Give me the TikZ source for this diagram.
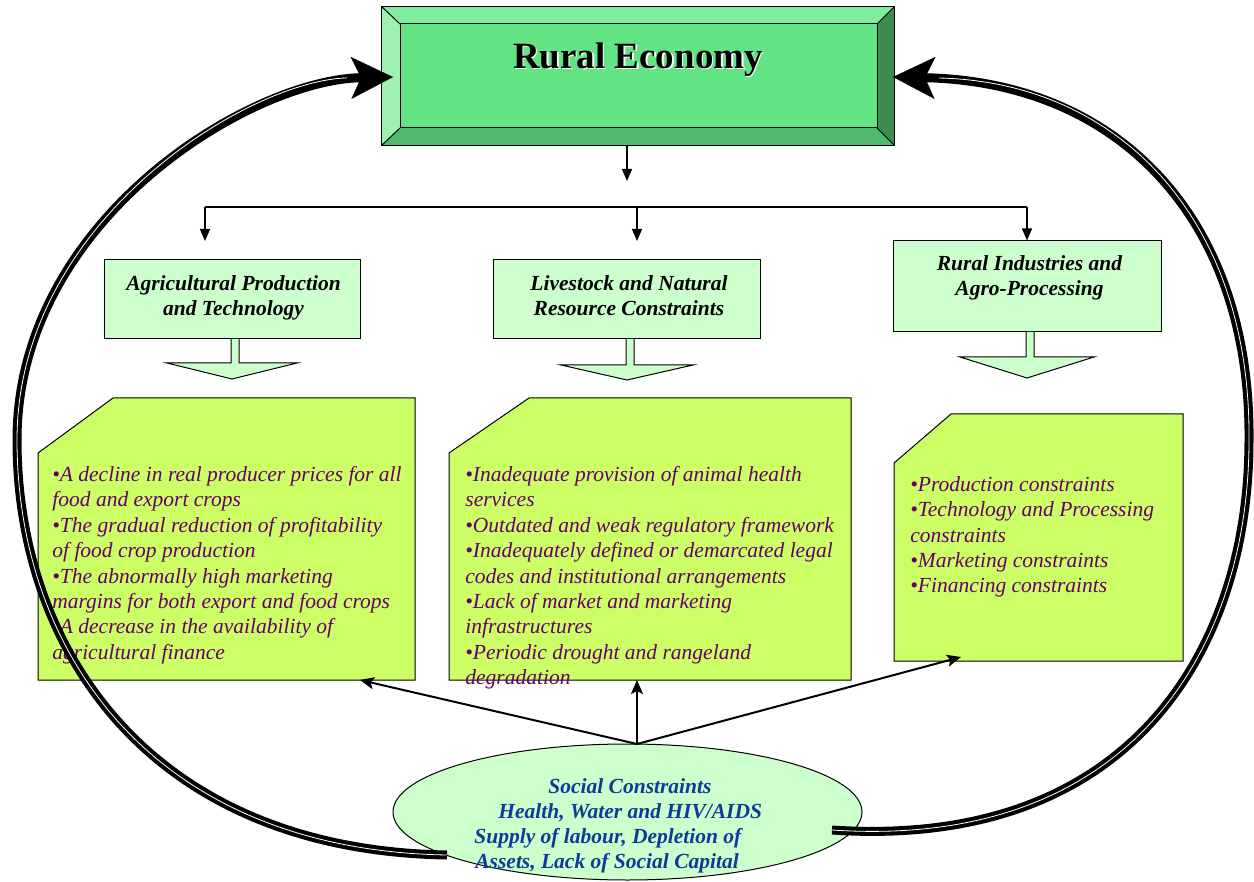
\documentclass[tikz,border=0pt]{standalone}
\usepackage{fontspec}
\setmainfont{Liberation Serif}
\usetikzlibrary{arrows.meta,shapes.geometric}
\definecolor{reMid}{HTML}{62E384}
\definecolor{reTop}{HTML}{80EB9A}
\definecolor{reLeft}{HTML}{A0F0B2}
\definecolor{reBot}{HTML}{50B86A}
\definecolor{reRight}{HTML}{3D8C52}
\definecolor{paleGreen}{HTML}{CCFFCC}
\definecolor{limeFill}{HTML}{CCFF66}
\definecolor{bodyPurple}{HTML}{660066}
\definecolor{socBlue}{HTML}{0D3B99}
\tikzset{
 edgeline/.style={line width=0.5pt, draw=black},
 hdrbox/.style={draw=black, line width=0.5pt, fill=paleGreen, rectangle, inner sep=0pt},
 hdrtxt/.style={font=\fontsize{10.75}{12.6}\selectfont\bfseries\itshape, align=center, inner sep=0pt, anchor=north},
 bodytxt/.style={font=\fontsize{10.75}{12.7}\selectfont\itshape, text=bodyPurple, align=left, inner sep=0pt, anchor=north west},
 soctxt/.style={font=\fontsize{10.75}{12.6}\selectfont\bfseries\itshape, text=socBlue, inner sep=0pt, anchor=base west},
 limebox/.style={draw=black, line width=0.5pt, fill=limeFill},
 blockarrow/.style={draw=black, line width=0.5pt, fill=paleGreen},
 droparrow/.style={line width=0.7pt, -{Triangle[length=6pt,width=5pt]}},
 hubarrow/.style={line width=1pt, -{Stealth[length=7pt,width=6pt,inset=1.5pt]}},
 loopblack/.style={line width=4.5pt, -{Stealth[length=21pt,width=21pt,inset=5pt,line width=0.1pt]}},
 loopwhite/.style={line width=0.4pt, white, shorten >=23pt},
}
\begin{document}
\begin{tikzpicture}[x=0.5pt,y=-0.5pt]
\useasboundingbox (0,0) rectangle (1254,882);

% ---- Rural Economy bevelled box
\node[draw=black, line width=0.5pt, fill=reMid, rectangle, minimum width=256pt, minimum height=69pt, inner sep=0pt] (reo) at (638,76) {};
\coordinate (i1) at (400,24);
\coordinate (i2) at (877,24);
\coordinate (i3) at (877,128);
\coordinate (i4) at (400,128);
\fill[reTop] (reo.north west) -- (reo.north east) -- (i2) -- (i1) -- cycle;
\fill[reRight] (reo.north east) -- (reo.south east) -- (i3) -- (i2) -- cycle;
\fill[reBot] (reo.south east) -- (reo.south west) -- (i4) -- (i3) -- cycle;
\fill[reLeft] (reo.south west) -- (reo.north west) -- (i1) -- (i4) -- cycle;
\draw[edgeline] (reo.north west) rectangle (reo.south east);
\draw[edgeline] (i1) rectangle (i3);
\draw[edgeline] (reo.north west) -- (i1) (reo.north east) -- (i2) (reo.south east) -- (i3) (reo.south west) -- (i4);
\node[font=\fontsize{18.5}{22}\selectfont\bfseries, text=white] (retitleshadow) at (639.5,61) {Rural Economy};
\node[font=\fontsize{18.5}{22}\selectfont\bfseries] (retitle) at (638,59.5) {Rural Economy};

% ---- drop arrow and distribution bar
\coordinate (reBottom) at (627,145);
\coordinate (reDrop) at (627,181);
\draw[droparrow] (reBottom) -- (reDrop);
\coordinate (barL) at (205,207);
\coordinate (barM) at (637,207);
\coordinate (barR) at (1027,207);
\coordinate (dropA) at (205,241);
\coordinate (dropB) at (637,241);
\draw[line width=0.7pt] (barL) -- (barR);

% ---- header boxes
\node[hdrbox, minimum width=128pt, minimum height=39.5pt] (hA) at (232,299.5) {};
\node[hdrbox, minimum width=133.5pt, minimum height=39.5pt] (hB) at (626.5,299.5) {};
\node[hdrbox, minimum width=134pt, minimum height=45.5pt] (hC) at (1027,286.5) {};
\node[hdrtxt] (hAt) at (233.5,275) {Agricultural Production\\and Technology};
\node[hdrtxt] (hBt) at (629,275) {Livestock and Natural\\Resource Constraints};
\node[hdrtxt] (hCt) at (1029.5,255) {Rural Industries and\\Agro-Processing};

\draw[droparrow] (barL) -- (dropA);
\draw[droparrow] (barM) -- (dropB);
\draw[droparrow] (barR) -- (hC.north);

% ---- block arrows
\draw[blockarrow] (231,339) -- (231,363) -- (167,363) -- (232,379) -- (297,363) -- (239,363) -- (239,339);
\draw[blockarrow] (626,339) -- (626,365) -- (561,365) -- (627,380) -- (693,365) -- (634,365) -- (634,339);
\draw[blockarrow] (1026,332) -- (1026,357) -- (960,357) -- (1027,378) -- (1094,357) -- (1034,357) -- (1034,332);

% ---- constraint boxes
\draw[limebox] (38,453) -- (113,398) -- (415,398) -- (415,680) -- (38,680) -- cycle;
\draw[limebox] (449,453) -- (529,398) -- (851,398) -- (851,680) -- (449,680) -- cycle;
\draw[limebox] (894,463) -- (951,414) -- (1183,414) -- (1183,661) -- (894,661) -- cycle;
\coordinate (lA) at (360,680);
\coordinate (lB) at (637,680);
\coordinate (lC) at (961,657);

\node[bodytxt] (tA) at (52,466) {\textbullet A decline in real producer prices for all\\food and export crops\\\textbullet The gradual reduction of profitability\\of food crop production\\\textbullet The abnormally high marketing\\margins for both export and food crops\\\textbullet A decrease in the availability of\\agricultural finance};
\node[bodytxt] (tB) at (465,466) {\textbullet Inadequate provision of animal health\\services\\\textbullet Outdated and weak regulatory framework\\\textbullet Inadequately defined or demarcated legal\\codes and institutional arrangements\\\textbullet Lack of market and marketing\\infrastructures\\\textbullet Periodic drought and rangeland\\degradation};
\node[bodytxt] (tC) at (910,476) {\textbullet Production constraints\\\textbullet Technology and Processing\\constraints\\\textbullet Marketing constraints\\\textbullet Financing constraints};

% ---- social constraints ellipse
\node[ellipse, draw=black, line width=0.5pt, fill=paleGreen, minimum width=234.5pt, minimum height=68pt, inner sep=0pt] (soc) at (627.5,812) {};
\node[soctxt] (s1) at (548,793) {Social Constraints};
\node[soctxt] (s2) at (498,818) {Health, Water and HIV/AIDS};
\node[soctxt] (s3) at (474,843) {Supply of labour, Depletion of};
\node[soctxt] (s4) at (475,868) {Assets, Lack of Social Capital};

\coordinate (hub) at (637,744);
\draw[hubarrow] (hub) -- (lB);
\draw[hubarrow] (hub) -- (lA);
\draw[hubarrow] (hub) -- (lC);

% ---- feedback loops
\coordinate (lpS) at (447,855);
\coordinate (lpE) at (393,77);
\coordinate (rpS) at (832,830);
\coordinate (rpE) at (893,77);
\draw[loopblack] (lpS) .. controls (150,850) and (17,650) .. (17,440) .. controls (17,220) and (250,80) .. (lpE);
\draw[loopwhite] (lpS) .. controls (150,850) and (17,650) .. (17,440) .. controls (17,220) and (250,80) .. (lpE);
\draw[loopblack] (rpS) .. controls (1130,850) and (1249,650) .. (1249,440) .. controls (1251,220) and (1120,82) .. (rpE);
\draw[loopwhite] (rpS) .. controls (1130,850) and (1249,650) .. (1249,440) .. controls (1251,220) and (1120,82) .. (rpE);
\end{tikzpicture}
\end{document}
